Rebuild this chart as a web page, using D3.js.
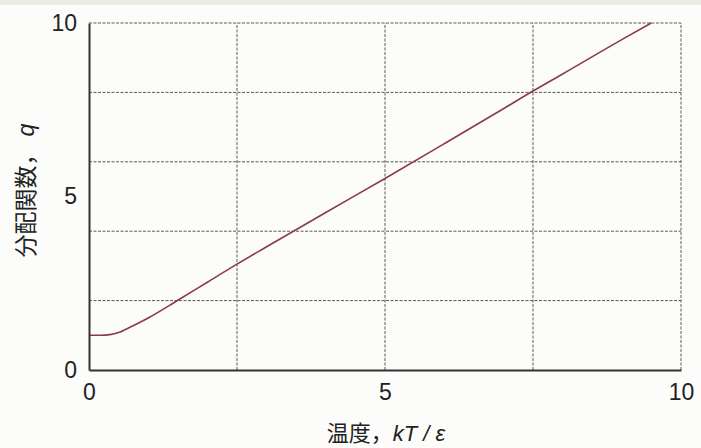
<!DOCTYPE html>
<html>
<head>
<meta charset="utf-8">
<script src="https://cdn.jsdelivr.net/npm/d3@7"></script>
<style>
  html, body { margin: 0; padding: 0; background: #fcfcfa; }
  svg { display: block; }
</style>
</head>
<body>
<svg id="chart" width="701" height="448"></svg>
<script>
// Rotational partition function q against reduced temperature kT/ε
const temps   = [0, 0.2, 0.35, 0.5, 0.7, 1.0, 1.5, 2.0, 2.5, 3.0, 4.0, 5.0, 6.0, 7.0, 7.5, 8.0, 9.0, 9.5];
const qValues = [1.0, 1.0, 1.02, 1.08, 1.24, 1.5, 2.01, 2.53, 3.05, 3.55, 4.54, 5.52, 6.52, 7.53, 8.04, 8.53, 9.52, 10.0];

const xTicks = [0, 5, 10];
const yTicks = [0, 5, 10];
const xGrid = [2.5, 5, 7.5, 10];
const yGrid = [2, 4, 6, 8, 10];

const W = 701, H = 448;
const margin = { left: 89, right: 20, top: 23, bottom: 78 };
const svg = d3.select("#chart");

// pale band along the top edge
svg.append("rect").attr("x", 0).attr("y", 0).attr("width", W).attr("height", 5)
  .attr("fill", "#e9efe0");

const x = d3.scaleLinear().domain([0, 10]).range([margin.left, W - margin.right]);
const y = d3.scaleLinear().domain([0, 10]).range([H - margin.bottom, margin.top]);

const font = "'Liberation Sans', Arial, sans-serif";
const cjk = "'Noto Sans CJK JP', 'Noto Sans CJK SC', sans-serif";

// dashed grid (also forms the top and right border)
const grid = svg.append("g").attr("stroke", "#5a5a5a").attr("stroke-width", 1)
  .attr("stroke-dasharray", "3,1.5");
grid.selectAll("line.v").data(xGrid).join("line").attr("class", "v")
  .attr("x1", d => x(d)).attr("x2", d => x(d))
  .attr("y1", y(0)).attr("y2", y(10));
grid.selectAll("line.h").data(yGrid).join("line").attr("class", "h")
  .attr("x1", x(0)).attr("x2", x(10))
  .attr("y1", d => y(d)).attr("y2", d => y(d));

// curve
const line = d3.line()
  .x((d, i) => x(temps[i]))
  .y((d, i) => y(qValues[i]))
  .curve(d3.curveMonotoneX);
svg.append("path").datum(qValues)
  .attr("d", line)
  .attr("fill", "none")
  .attr("stroke", "#8b3a4c")
  .attr("stroke-width", 1.6);

// axes
const xAxis = svg.append("g").attr("transform", `translate(0,${y(0)})`)
  .call(d3.axisBottom(x).tickValues(xTicks).tickSize(0).tickPadding(14).tickFormat(d3.format("d")));
const yAxis = svg.append("g").attr("transform", `translate(${x(0)},0)`)
  .call(d3.axisLeft(y).tickValues(yTicks).tickSize(0).tickPadding(12).tickFormat(d3.format("d")));

[xAxis, yAxis].forEach(g => {
  g.select(".domain").attr("stroke", "#333").attr("stroke-width", 2);
  g.selectAll("text").attr("font-family", font).attr("font-size", 23).attr("fill", "#222");
});

// axis titles
const xt = svg.append("text")
  .attr("x", 386).attr("y", 441)
  .attr("text-anchor", "middle")
  .attr("font-family", cjk).attr("font-size", 22).attr("fill", "#222");
xt.append("tspan").text("温度，");
xt.append("tspan").attr("font-family", font).attr("font-style", "italic").text("kT / ε");

const yt = svg.append("text")
  .attr("transform", `translate(34,${(margin.top + H - margin.bottom) / 2 - 6}) rotate(-90)`)
  .attr("text-anchor", "middle")
  .attr("font-family", cjk).attr("font-size", 23).attr("fill", "#222");
yt.append("tspan").text("分配関数，");
yt.append("tspan").attr("font-family", font).attr("font-style", "italic").attr("dx", 6).text("q");
</script>
</body>
</html>
